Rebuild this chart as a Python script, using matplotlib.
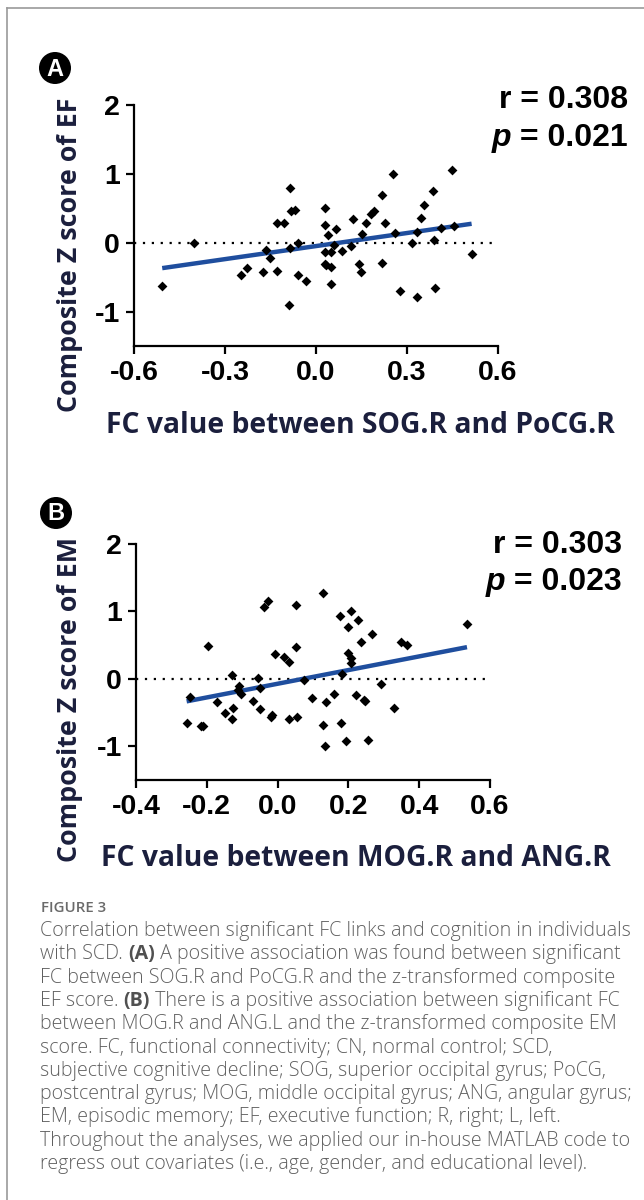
import matplotlib
matplotlib.use("Agg")
import matplotlib.pyplot as plt
import numpy as np
from matplotlib.patches import Ellipse
from matplotlib.lines import Line2D

# ---------------- data ----------------
fc_a = [-0.507, -0.401, -0.248, -0.226, -0.175, -0.164, -0.151, -0.130, -0.130, -0.104,
        -0.088, -0.085, -0.085, -0.082, -0.068, -0.059, -0.059, -0.034, 0.029, 0.031,
        0.029, 0.029, 0.034, 0.038, 0.048, 0.048, 0.049, 0.059, 0.065, 0.085,
        0.116, 0.122, 0.142, 0.149, 0.152, 0.165, 0.181, 0.191, 0.218, 0.216,
        0.229, 0.255, 0.259, 0.278, 0.315, 0.334, 0.334, 0.345, 0.356, 0.386,
        0.390, 0.391, 0.411, 0.449, 0.455, 0.513]
ef_a = [-0.63, 0.00, -0.47, -0.36, -0.42, -0.10, -0.22, -0.41, 0.29, 0.29,
        -0.91, 0.80, -0.08, 0.46, 0.48, 0.00, -0.47, -0.56, 0.50, 0.26,
        -0.13, -0.31, -0.33, 0.11, -0.14, -0.35, -0.60, -0.04, 0.20, -0.12,
        -0.05, 0.34, -0.31, -0.42, 0.12, 0.28, 0.42, 0.46, 0.70, -0.29,
        0.29, 1.00, 0.14, -0.70, 0.00, 0.16, -0.79, 0.36, 0.55, 0.75,
        0.04, -0.66, 0.22, 1.06, 0.25, -0.17]

fc_b = [-0.257, -0.247, -0.217, -0.212, -0.198, -0.172, -0.148, -0.130, -0.126, -0.128,
        -0.111, -0.108, -0.104, -0.069, -0.054, -0.051, -0.050, -0.039, -0.027, -0.018,
        -0.016, -0.007, 0.019, 0.032, 0.031, 0.051, 0.051, 0.055, 0.075, 0.098,
        0.128, 0.128, 0.133, 0.136, 0.158, 0.176, 0.178, 0.183, 0.192, 0.199,
        0.200, 0.206, 0.206, 0.208, 0.222, 0.226, 0.235, 0.245, 0.248, 0.255,
        0.268, 0.292, 0.328, 0.348, 0.365, 0.535]
em_b = [-0.66, -0.27, -0.70, -0.70, 0.49, -0.34, -0.50, 0.05, -0.43, -0.60,
        -0.17, -0.11, -0.23, -0.33, 0.02, -0.14, -0.44, 1.06, 1.15, -0.56,
        -0.53, 0.37, 0.33, 0.25, -0.59, 1.09, 0.47, -0.57, -0.02, -0.28,
        1.27, -0.69, -1.00, -0.35, -0.22, 0.93, -0.65, 0.07, -0.92, 0.38,
        0.77, 0.31, 0.24, 1.00, -0.24, 0.88, 0.55, -0.31, -0.33, -0.90,
        0.66, -0.08, -0.43, 0.55, 0.50, 0.81]

xticks_a = [-0.6, -0.3, 0.0, 0.3, 0.6]
xticks_b = [-0.4, -0.2, 0.0, 0.2, 0.4, 0.6]
yticks = [-1, 0, 1, 2]
stats_a = ("0.308", "0.021")
stats_b = ("0.303", "0.023")
ylabel_a = "Composite Z score of EF"
ylabel_b = "Composite Z score of EM"
xlabel_a = "FC value between SOG.R and PoCG.R"
xlabel_b = "FC value between MOG.R and ANG.R"

caption_title = "FIGURE 3"
caption_lines = [
    [("Correlation between significant FC links and cognition in individuals", "light")],
    [("with SCD. ", "light"), ("(A)", "bold"), (" A positive association was found between significant", "light")],
    [("FC between SOG.R and PoCG.R and the z-transformed composite", "light")],
    [("EF score. ", "light"), ("(B)", "bold"), (" There is a positive association between significant FC", "light")],
    [("between MOG.R and ANG.L and the z-transformed composite EM", "light")],
    [("score. FC, functional connectivity; CN, normal control; SCD,", "light")],
    [("subjective cognitive decline; SOG, superior occipital gyrus; PoCG,", "light")],
    [("postcentral gyrus; MOG, middle occipital gyrus; ANG, angular gyrus;", "light")],
    [("EM, episodic memory; EF, executive function; R, right; L, left.", "light")],
    [("Throughout the analyses, we applied our in-house MATLAB code to", "light")],
    [("regress out covariates (i.e., age, gender, and educational level).", "light")],
]

# ---------------- figure ----------------
W, H = 644, 1200
fig = plt.figure(figsize=(W / 100, H / 100), dpi=100)
fig.patch.set_facecolor("white")


def fx(px):
    return px / W


def fy(py):
    return 1 - py / H


NAVY = "#1b1f3d"
BLUE = "#1f4e9e"
TICKFONT = "Liberation Sans"
LABFONT = "Open Sans"

# frame lines
fig.add_artist(Line2D([fx(7), 1.0], [fy(8), fy(8)], color="#9a9a9a", lw=1.2))
fig.add_artist(Line2D([fx(7), fx(7)], [fy(8), 0.0], color="#9a9a9a", lw=1.2))


def panel(rect_px, x, y, xticks, xlim, stats, ylabel, xlabel, letter,
          letter_xy, ylab_xy, xlab_xy, stat_x, stat_y):
    l, t, r, b = rect_px
    ax = fig.add_axes([fx(l), fy(b), fx(r) - fx(l), fy(t) - fy(b)])
    ax.set_xlim(*xlim)
    ax.set_ylim(-1.5, 2)
    for s in ("top", "right"):
        ax.spines[s].set_visible(False)
    for s in ("left", "bottom"):
        ax.spines[s].set_linewidth(1.6)
    ax.set_xticks(xticks)
    ax.set_xticklabels([f"{v:.1f}" for v in xticks])
    ax.set_yticks(yticks)
    ax.set_yticklabels([str(v) for v in yticks])
    ax.tick_params(axis="both", direction="out", length=6, width=1.6, pad=4)
    for lab in ax.get_xticklabels() + ax.get_yticklabels():
        lab.set_fontfamily(TICKFONT)
        lab.set_fontweight("bold")
        lab.set_fontsize(20.5)
    ax.axhline(0, color="black", lw=1.6, ls=(0, (1, 3)), zorder=1)
    ax.scatter(x, y, marker="D", s=25, color="black", linewidths=0, zorder=3)
    k, c0 = np.polyfit(x, y, 1)
    xs = np.array([min(x), max(x)])
    ax.plot(xs, k * xs + c0, color=BLUE, lw=3.2, solid_capstyle="butt", zorder=2)

    # stats text
    fig.text(fx(stat_x), fy(stat_y[0]), f"r = {stats[0]}", ha="right", va="center",
             family=TICKFONT, weight="bold", fontsize=23)
    t2 = fig.text(fx(stat_x), fy(stat_y[1]), f" = {stats[1]}", ha="right", va="center",
                  family=TICKFONT, weight="bold", fontsize=23)
    ax.annotate("p", xy=(0, 0), xycoords=t2, ha="right", va="bottom",
                family=TICKFONT, weight="bold", style="italic", fontsize=23,
                annotation_clip=False)

    # axis labels
    fig.text(fx(ylab_xy[0]), fy(ylab_xy[1]), ylabel, rotation=90, ha="center", va="center",
             family=LABFONT, weight="bold", fontsize=19.4, color=NAVY)
    fig.text(fx(xlab_xy[0]), fy(xlab_xy[1]), xlabel, ha="center", va="center",
             family=LABFONT, weight="bold", fontsize=20.3, color=NAVY)

    # panel letter
    cx, cy = letter_xy
    ell = Ellipse((fx(cx), fy(cy)), width=32 / W, height=32 / H, transform=fig.transFigure,
                  facecolor="black", edgecolor="none")
    fig.add_artist(ell)
    fig.text(fx(cx), fy(cy + 1), letter, ha="center", va="center", color="white",
             family=TICKFONT, weight="bold", fontsize=17)
    return ax


panel((134, 105, 498, 346), fc_a, ef_a, xticks_a, (-0.6, 0.6), stats_a, ylabel_a, xlabel_a,
      "A", (55, 68), (70, 255), (360, 425), 628, (100, 138))
panel((136, 544, 490, 780), fc_b, em_b, xticks_b, (-0.4, 0.6), stats_b, ylabel_b, xlabel_b,
      "B", (56, 513), (70, 699), (356, 858), 622, (545, 582))

# caption
CAPCOL = "#606060"
fig.text(fx(41), fy(908), caption_title, ha="left", va="center", family=LABFONT,
         weight="semibold", fontsize=10.8, color="#6a6a6a")
y0, dy = 936, 23.3
for i, pieces in enumerate(caption_lines):
    prev = None
    for txt, wt in pieces:
        col = "#505050" if wt == "bold" else CAPCOL
        if prev is None:
            prev = fig.text(fx(40), fy(y0 + i * dy), txt, ha="left", va="baseline",
                            family=LABFONT, weight=wt, fontsize=14.1, color=col)
        else:
            prev = fig.axes[0].annotate(txt, xy=(1, 0), xycoords=prev, ha="left", va="bottom",
                                        family=LABFONT, weight=wt, fontsize=14.1,
                                        color=col, annotation_clip=False)

fig.savefig("out.png", dpi=100, facecolor="white")
